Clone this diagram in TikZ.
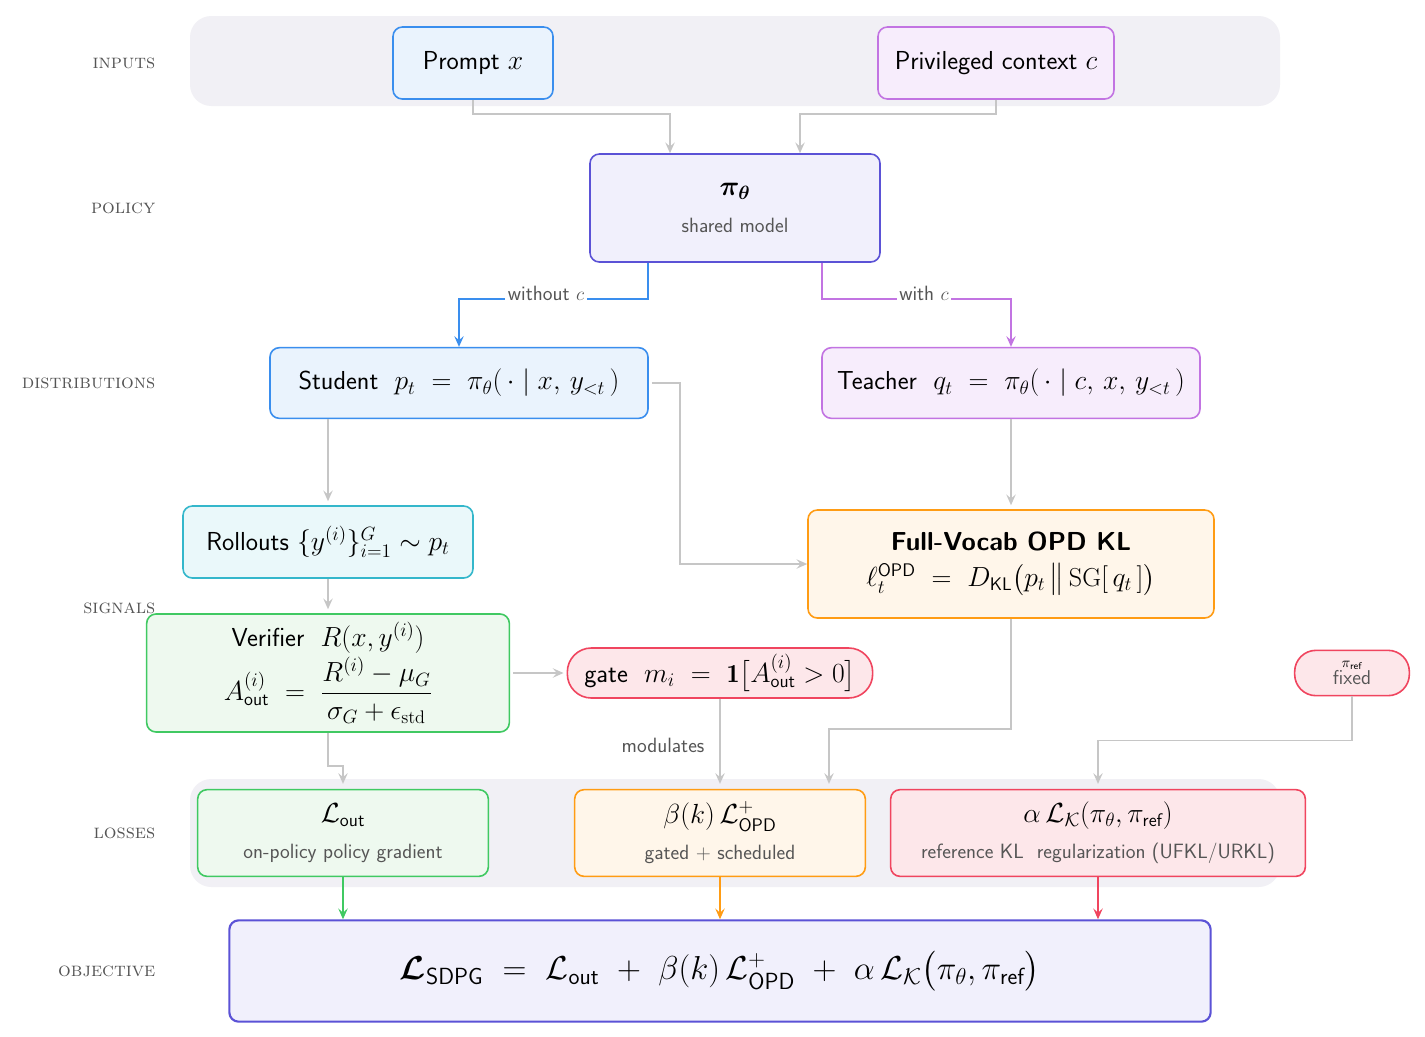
\documentclass[tikz,border=0pt]{standalone}
\usepackage{amsmath,amssymb,bm}
\usepackage{fontspec}
\usetikzlibrary{arrows.meta,calc}
\definecolor{bandc}{HTML}{F1F0F5}
\definecolor{blueb}{HTML}{3A8EEE}\definecolor{bluef}{HTML}{EAF3FD}
\definecolor{purb}{HTML}{C274E2}\definecolor{purf}{HTML}{F7EDFC}
\definecolor{indb}{HTML}{5B52D6}\definecolor{indf}{HTML}{F1F0FC}
\definecolor{cyab}{HTML}{34B7CB}\definecolor{cyaf}{HTML}{EAF8FA}
\definecolor{orab}{HTML}{FF9C14}\definecolor{oraf}{HTML}{FFF6EA}
\definecolor{greb}{HTML}{40C962}\definecolor{gref}{HTML}{EEF9EF}
\definecolor{redb}{HTML}{F0455F}\definecolor{redf}{HTML}{FDE7EA}
\definecolor{lin}{HTML}{C6C6C6}\definecolor{lab}{HTML}{555555}
\begin{document}
\begin{tikzpicture}[x=0.75pt,y=-0.75pt,
 box/.style={draw=#1b,fill=#1f,line width=1.2pt,rounded corners=7pt,align=center,inner sep=0pt,font=\sffamily\fontsize{19.5}{24}\selectfont},
 band/.style={fill=bandc,rounded corners=16pt,inner sep=0pt},
 side/.style={anchor=east,font=\rmfamily\scshape\fontsize{15}{17}\selectfont,text=lab},
 arr/.style={draw=lin,line width=1.4pt,-{Stealth[length=8pt,width=7pt,inset=3pt]}},
 elab/.style={font=\sffamily\fontsize{15.5}{19}\selectfont,text=lab,fill=white,inner sep=2pt}]
\newcommand{\subt}[1]{{\sffamily\fontsize{15.5}{19}\selectfont\color{lab}#1}}
\useasboundingbox (0,0) rectangle (1425,1036);
\fill[white] (0,0) rectangle (1425,1036);
\node[band,minimum width=817.5pt,minimum height=67.5pt] (b1) at (735,61) {};
\node[band,minimum width=817.5pt,minimum height=81pt] (b2) at (735,833) {};
\node[side] (l1) at (160,63) {inputs};
\node[side] (l2) at (160,208) {policy};
\node[side] (l3) at (160,383) {distributions};
\node[side] (l4) at (160,608) {signals};
\node[side] (l5) at (160,833) {losses};
\node[side] (l6) at (160,971) {objective};

\node[box=blue,minimum width=120pt,minimum height=54pt] (prompt) at (473,63) {Prompt $x$};
\node[box=pur,minimum width=177pt,minimum height=54pt] (priv) at (996,63) {Privileged context $c$};
\node[box=ind,minimum width=217.5pt,minimum height=81pt] (policy) at (735,208) {$\bm{\pi_\theta}$\\[4pt]\subt{shared model}};
\node[box=blue,minimum width=283.5pt,minimum height=53pt] (student) at (459,383) {Student\ \ $p_t\ =\ \pi_\theta(\,\cdot\mid x,\,y_{<t}\,)$};
\node[box=pur,minimum width=283.5pt,minimum height=53pt] (teacher) at (1011,383) {Teacher\ \ $q_t\ =\ \pi_\theta(\,\cdot\mid c,\,x,\,y_{<t}\,)$};
\node[box=cya,minimum width=217.5pt,minimum height=54pt] (roll) at (328,542) {Rollouts $\{y^{(i)}\}_{i=1}^{G}\sim p_t$};
\node[box=ora,minimum width=304.5pt,minimum height=81pt] (kl) at (1011,564) {\textbf{Full-Vocab OPD KL}\\[3pt]$\ell_t^{\textsf{OPD}}\ =\ D_{\textsf{KL}}\big(p_t\,\big\|\,\mathrm{SG}[\,q_t\,]\big)$};
\node[box=gre,minimum width=272pt,minimum height=88.5pt] (ver) at (328,673) {Verifier\ \ $R(x,y^{(i)})$\\[2pt]$A_{\textsf{out}}^{(i)}\ =\ \dfrac{R^{(i)}-\mu_G}{\sigma_G+\epsilon_{\mathrm{std}}}$};
\node[box=red,rounded corners=18pt,minimum width=229pt,minimum height=37.5pt] (gate) at (720,673) {gate\ \ $m_i\ =\ \mathbf{1}\big[A_{\textsf{out}}^{(i)}>0\big]$};
\node[box=red,rounded corners=16pt,minimum width=86pt,minimum height=34pt,font=\sffamily\fontsize{15}{13}\selectfont] (ref) at (1352,673) {$\scriptstyle\pi_{\textsf{ref}}$\\{\color{lab}fixed}};
\node[box=gre,minimum width=218pt,minimum height=65pt] (lout) at (343,833) {$\mathcal{L}_{\textsf{out}}$\\[3pt]\subt{on-policy policy gradient}};
\node[box=ora,minimum width=218pt,minimum height=65pt] (lopd) at (720,833) {$\beta(k)\,\mathcal{L}_{\textsf{OPD}}^{+}$\\[3pt]\subt{gated + scheduled}};
\node[box=red,minimum width=311pt,minimum height=65pt] (lref) at (1098,833) {$\alpha\,\mathcal{L}_{\mathcal{K}}(\pi_\theta,\pi_{\textsf{ref}})$\\[3pt]\subt{reference KL\ \ regularization (UFKL/URKL)}};
\node[box=ind,line width=1.6pt,minimum width=736pt,minimum height=76pt,font=\fontsize{25}{30}\selectfont] (obj) at (720,971) {$\bm{\mathcal{L}}_{\textsf{SDPG}}\ =\ \mathcal{L}_{\textsf{out}}\ +\ \beta(k)\,\mathcal{L}_{\textsf{OPD}}^{+}\ +\ \alpha\,\mathcal{L}_{\mathcal{K}}\big(\pi_\theta,\pi_{\textsf{ref}}\big)$};

% connectors
\draw[arr] (prompt.south) -- ++(0,14) -| ($(policy.north)+(-65,0)$);
\draw[arr] (priv.south) -- ++(0,14) -| ($(policy.north)+(65,0)$);
\draw[arr,draw=blueb] ($(policy.south)+(-87,0)$) -- ++(0,36) -| (student.north);
\node[elab] (wo) at (546,293) {without $c$};
\draw[arr,draw=purb] ($(policy.south)+(87,0)$) -- ++(0,36) -| (teacher.north);
\node[elab] (wi) at (924,293) {with $c$};
\draw[arr] ($(student.east)+(3,0)$) -- ++(28,0) |- (kl.west);
\draw[arr] (teacher.south) -- ($(kl.north)+(0,-4)$);
\draw[arr] ($(student.south)+(-131,0)$) -- ($(roll.north)+(0,-4)$);
\draw[arr] (roll.south) -- ($(ver.north)+(0,-4)$);
\draw[arr] ($(ver.east)+(3,0)$) -- ($(gate.west)+(-3,0)$);
\draw[arr] (gate.south) -- ($(lopd.north)+(0,-5)$);
\node[font=\sffamily\fontsize{15.5}{19}\selectfont,text=lab] (mod) at (663,745) {modulates};
\draw[arr] (kl.south) -- ++(0,110) -| ($(lopd.north)+(109,-5)$);
\draw[arr] (ref.south) -- ++(0,44) -| ($(lref.north)+(0,-5)$);
\draw[arr] (ver.south) -- ++(0,33) -| ($(lout.north)+(0,-5)$);
\draw[arr,draw=greb] (lout.south) -- (lout.south|-obj.north);
\draw[arr,draw=orab] (lopd.south) -- (lopd.south|-obj.north);
\draw[arr,draw=redb] (lref.south) -- (lref.south|-obj.north);
\end{tikzpicture}
\end{document}
